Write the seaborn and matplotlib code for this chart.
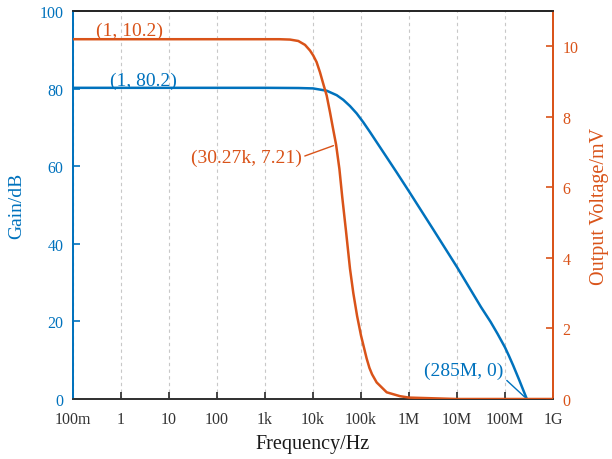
import matplotlib
matplotlib.use("Agg")
import matplotlib.pyplot as plt
import seaborn as sns
import pandas as pd
from matplotlib.ticker import FixedLocator, FixedFormatter, NullLocator

# ---------------- data ----------------
gain_freq = [0.1, 1, 10, 100, 1e3, 5e3, 1e4, 1.93e4, 3.12e4, 4.28e4, 5.9e4,
             8.13e4, 1.12e5, 1.54e5, 2.12e5, 3.43e5, 5.54e5, 1e6, 3.16e6,
             1e7, 3.16e7, 5e7, 7e7, 1e8, 1.2e8, 1.48e8, 2.0e8, 2.4e8, 2.85e8, 3.5e8]
gain_db = [80.2, 80.2, 80.2, 80.2, 80.2, 80.15, 80.05, 79.45, 78.3, 77.1, 75.5,
           73.6, 71.3, 68.8, 66.2, 62.3, 58.4, 53.5, 43.8,
           34.0, 23.7, 19.9, 16.8, 13.3, 11.2, 8.65, 4.75, 2.3, 0.0, -3.0]

volt_freq = [0.1, 1, 10, 100, 1e3, 2e3, 3.32e3, 4.94e3, 6.81e3, 8.66e3, 1.01e4,
             1.19e4, 1.40e4, 1.64e4, 1.93e4, 2.26e4, 2.57e4, 3.027e4, 3.55e4,
             4.07e4, 4.87e4, 5.9e4, 6.92e4, 8.3e4, 1e5, 1.31e5, 1.5e5, 1.7e5,
             2.12e5, 3.43e5, 6.49e5, 1e6, 1e7, 1e8, 1e9]
volt_mv = [10.2, 10.2, 10.2, 10.2, 10.2, 10.2, 10.19, 10.15, 10.04, 9.88, 9.74,
           9.55, 9.26, 8.93, 8.60, 8.13, 7.72, 7.21, 6.52,
           5.72, 4.76, 3.69, 3.0, 2.35, 1.80, 1.15, 0.88, 0.70,
           0.47, 0.19, 0.08, 0.04, 0.0, 0.0, 0.0]

x_ticks = [0.1, 1, 10, 100, 1e3, 1e4, 1e5, 1e6, 1e7, 1e8, 1e9]
x_tick_labels = ["100m", "1", "10", "100", "1k", "10k", "100k", "1M", "10M", "100M", "1G"]
left_ticks = [0, 20, 40, 60, 80, 100]
right_ticks = [0, 2, 4, 6, 8, 10]

ann_points = [  # (series, x, y, label)
    ("volt", 1, 10.2, "(1, 10.2)"),
    ("gain", 1, 80.2, "(1, 80.2)"),
    ("volt", 3.027e4, 7.21, "(30.27k, 7.21)"),
    ("gain", 2.85e8, 0, "(285M, 0)"),
]

BLUE = "#0072BD"
ORANGE = "#D95319"

# ---------------- style ----------------
sns.set_theme(style="white")
plt.rcParams["font.family"] = ["Liberation Serif", "DejaVu Serif"]

fig = plt.figure(figsize=(6.12, 4.6), dpi=100)
ax = fig.add_axes([73 / 612, 60 / 460, 480 / 612, 388 / 460])
ax2 = ax.twinx()

df_gain = pd.DataFrame({"f": gain_freq, "g": gain_db})
df_volt = pd.DataFrame({"f": volt_freq, "v": volt_mv})

sns.lineplot(data=df_gain, x="f", y="g", ax=ax, color=BLUE, lw=1.8, zorder=3)
sns.lineplot(data=df_volt, x="f", y="v", ax=ax2, color=ORANGE, lw=1.8, zorder=3)

ax.set_xscale("log")
ax.set_xlim(0.1, 1e9)
ax.set_ylim(0, 100)
ax2.set_ylim(0, 11)

ax.xaxis.set_major_locator(FixedLocator(x_ticks))
ax.xaxis.set_major_formatter(FixedFormatter(x_tick_labels))
ax.xaxis.set_minor_locator(NullLocator())
ax.set_yticks(left_ticks)
ax2.set_yticks(right_ticks)

ax.grid(axis="x", which="major", ls=(0, (3, 3)), color="#c8c8c8", lw=0.8)
ax.grid(axis="y", visible=False)
ax2.grid(False)

ax.tick_params(axis="x", direction="in", length=5, width=1.2, colors="#262626",
               labelsize=11.5, pad=9, bottom=True, top=False)
ax.tick_params(axis="x", labelcolor="#333333")
ax.tick_params(axis="y", direction="in", length=5, width=1.2, colors=BLUE,
               labelsize=11.5, pad=7, left=True)
ax2.tick_params(axis="y", direction="in", length=5, width=1.2, colors=ORANGE,
                labelsize=11.5, pad=7, right=True)

for a in (ax, ax2):
    for s in a.spines.values():
        s.set_linewidth(1.3)
    a.spines["left"].set_color(BLUE)
    a.spines["right"].set_color(ORANGE)
    a.spines["bottom"].set_color("#333333")
    a.spines["top"].set_color("#262626")

ax.set_xlabel("Frequency/Hz", fontsize=14.5, color="#1a1a1a", labelpad=5)
ax.set_ylabel("Gain/dB", fontsize=14, color=BLUE, labelpad=10)
ax2.set_ylabel("Output Voltage/mV", fontsize=14.5, color=ORANGE, labelpad=8)

# ---------------- annotations ----------------
offsets = [(9, 8.5, None), (22, 7.5, None), (-90, -12.5, (1.0, 0.5)), (-63, 28.5, (1.0, 0.1))]
for (series, x, y, label), (dx, dy, relpos) in zip(ann_points, offsets):
    a = ax2 if series == "volt" else ax
    col = ORANGE if series == "volt" else BLUE
    kw = {}
    if relpos is not None:
        kw["arrowprops"] = dict(arrowstyle="-", color=col, lw=1.0, relpos=relpos,
                                shrinkA=0, shrinkB=2)
    a.annotate(label, xy=(x, y), xytext=(dx, dy), textcoords="offset pixels",
               ha="center", va="center", fontsize=14, color=col, zorder=5, **kw)

fig.savefig("out.png", dpi=100)
